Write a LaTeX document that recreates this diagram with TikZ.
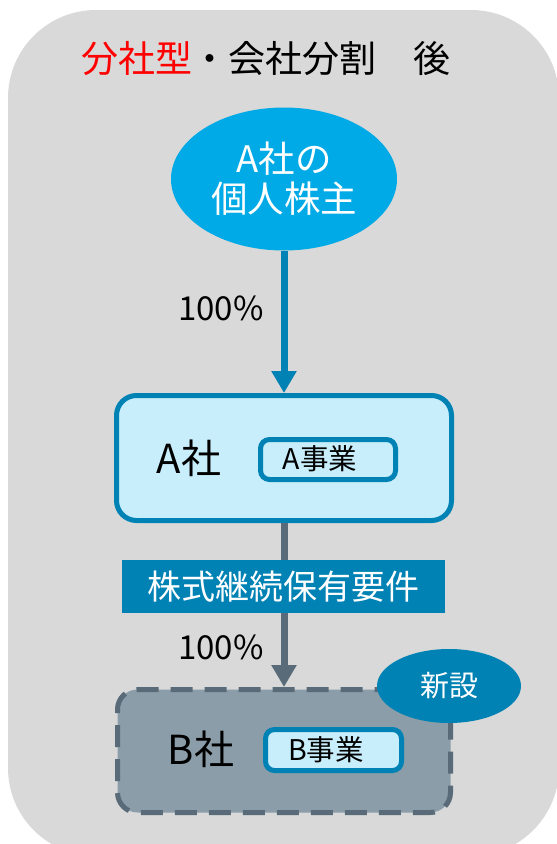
\documentclass[tikz,border=0pt]{standalone}
\usepackage{fontspec}
\setmainfont{Noto Sans CJK JP}
\usetikzlibrary{arrows.meta,shapes.geometric}
\definecolor{bggray}{HTML}{D9D9D9}
\definecolor{skyblue}{HTML}{00AAE6}
\definecolor{deepblue}{HTML}{0082B4}
\definecolor{paleblue}{HTML}{C8EEFC}
\definecolor{slatefill}{HTML}{8A9DA9}
\definecolor{slateline}{HTML}{596B78}
\definecolor{titlered}{HTML}{FF0000}
\tikzset{
  fs/.style={font=\fontsize{#1}{#1}\selectfont},
  bizbox/.style={draw=deepblue, line width=5pt, fill=paleblue, rounded corners=9pt, inner sep=0pt},
  conn/.style={line width=7pt, -{Triangle[width=24pt,length=22pt]}},
  plain/.style={inner sep=0pt, outer sep=0pt}
}
\begin{document}
\begin{tikzpicture}[x=1pt,y=-1pt]
\useasboundingbox (0,0) rectangle (557,844);
\begin{scope}
\clip (0,0) rectangle (557,844);
\fill[bggray, rounded corners=88pt] (8,10) rectangle (559,856);
\end{scope}
% title
\node[plain, fs=37, anchor=center] (title) at (266,59) {\textcolor{titlered}{分社型}・会社分割　後};
% shareholder ellipse
\node[ellipse, fill=skyblue, minimum width=226pt, minimum height=143pt, inner sep=0pt, text=white, align=center, font=\fontsize{36.5}{40}\selectfont] (holder) at (284,179) {A社の\\個人株主};
% A company
\node[bizbox, rounded corners=20pt, minimum width=335pt, minimum height=125pt] (A) at (284,458) {};
\node[plain, fs=40] (Atxt) at (189,458) {A社};
\node[bizbox, minimum width=135pt, minimum height=40pt] (Abiz) at (328,459.5) {};
\node[plain, fs=28.5] (Abiztxt) at (320,459) {A事業};
% arrow 1
\draw[conn, draw=deepblue, fill=deepblue] (holder.south) -- (A.north);
\node[plain, fs=33] (p1) at (221,308) {100\%};
% B company
\node[draw=slateline, line width=5pt, dash pattern=on 22pt off 12pt, fill=slatefill, rounded corners=20pt, minimum width=333pt, minimum height=123pt, inner sep=0pt] (B) at (284,751) {};
% arrow 2
\draw[conn, draw=slateline, fill=slateline] (A.south) -- (B.north);
\node[plain, fs=33] (p2) at (221,647) {100\%};
% requirement label
\node[fill=deepblue, minimum width=323pt, minimum height=53pt, inner sep=0pt, text=white, fs=34] (req) at (283.5,586.5) {株式継続保有要件};
\node[plain, fs=40] (Btxt) at (201,749) {B社};
\node[bizbox, minimum width=136pt, minimum height=41pt] (Bbiz) at (333.5,750) {};
\node[plain, fs=28.5] (Bbiztxt) at (326,750) {B事業};
% new badge
\node[ellipse, fill=deepblue, minimum width=144pt, minimum height=74pt, inner sep=0pt, text=white, fs=29] (new) at (449,686) {新設};
\end{tikzpicture}
\end{document}
